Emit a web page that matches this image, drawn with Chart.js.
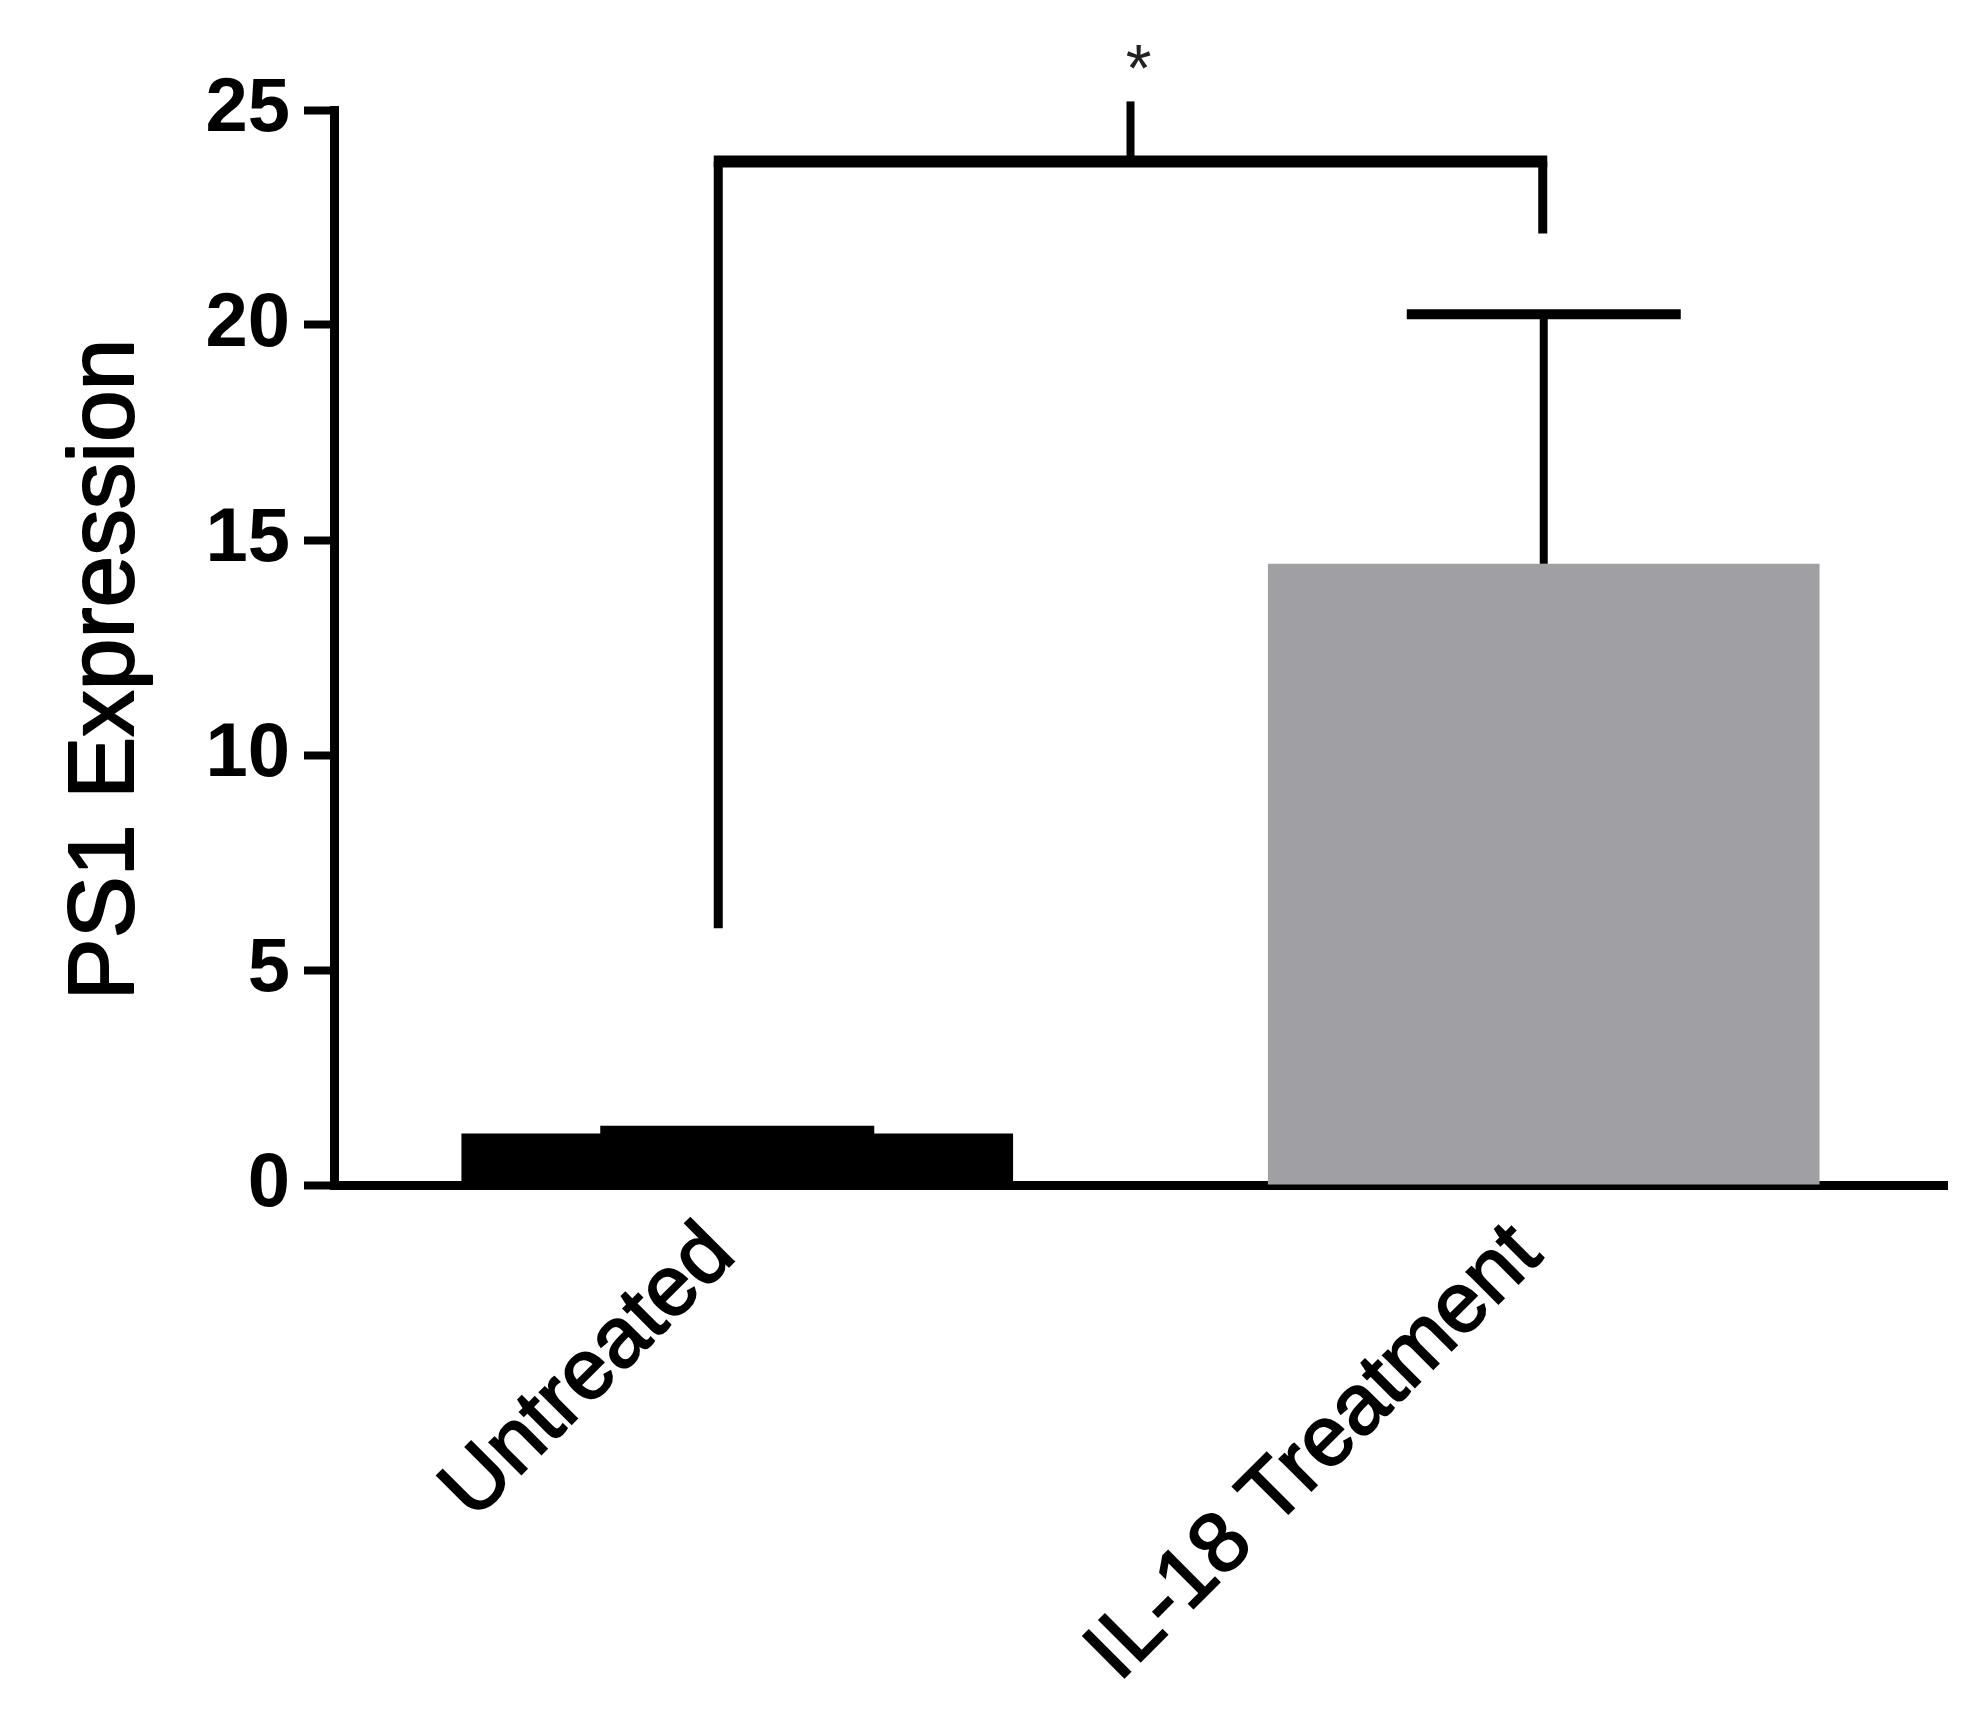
<!DOCTYPE html>
<html>
<head>
<meta charset="utf-8">
<script src="https://cdn.jsdelivr.net/npm/chart.js@4.4.1/dist/chart.umd.min.js"></script>
<style>
  html, body { margin: 0; padding: 0; background: #ffffff; }
  #wrap { width: 1986px; height: 1713px; }
</style>
</head>
<body>
<div id="wrap"><canvas id="c" width="1986" height="1713"></canvas></div>
<script>
// ---- Data ----
const categories = ['Untreated', 'IL-18 Treatment'];
const meanValues = [1.2, 14.45];
const errorUpper = [1.26, 20.25];       // top of error bar (mean + SEM)
const barColors = ['#000000', '#a09fa3'];
const yTicks = [0, 5, 10, 15, 20, 25];
const yTitle = 'PS1 Expression';
// significance bracket levels
const bracketLeftFoot = 5.97;
const bracketTop = 23.8;
const bracketRightFoot = 22.13;
const bracketTickTop = 25.2;
const starLevel = 26.35;
const starText = '*';

const FONT = '"Liberation Sans", Arial, Helvetica, sans-serif';

const overlay = {
  id: 'overlay',
  afterDatasetsDraw(chart) {
    const ctx = chart.ctx;
    const xs = chart.scales.x, ys = chart.scales.y;
    const meta = chart.getDatasetMeta(0);
    ctx.save();
    ctx.strokeStyle = '#000';
    ctx.lineCap = 'butt';
    // error bars
    meta.data.forEach((bar, i) => {
      const x = bar.x;
      const y0 = ys.getPixelForValue(meanValues[i]);
      const y1 = ys.getPixelForValue(errorUpper[i]);
      ctx.lineWidth = 8;
      ctx.beginPath();
      ctx.moveTo(x, y0);
      ctx.lineTo(x, y1);
      ctx.stroke();
      ctx.lineWidth = 10;
      ctx.beginPath();
      ctx.moveTo(x - 137, y1);
      ctx.lineTo(x + 137, y1);
      ctx.stroke();
    });
    // significance bracket
    const xl = xs.getPixelForValue(0) - 19;
    const xr = xs.getPixelForValue(1) - 1;
    const yl = ys.getPixelForValue(bracketLeftFoot);
    const yt = ys.getPixelForValue(bracketTop);
    const yr = ys.getPixelForValue(bracketRightFoot);
    ctx.lineWidth = 9;
    ctx.beginPath();
    ctx.moveTo(xl, yl);
    ctx.lineTo(xl, yt);
    ctx.moveTo(xr, yt);
    ctx.lineTo(xr, yr);
    ctx.stroke();
    ctx.lineWidth = 12;
    ctx.beginPath();
    ctx.moveTo(xl - 4.5, yt);
    ctx.lineTo(xr + 4.5, yt);
    ctx.stroke();
    const xm = (xl + xr) / 2;
    ctx.lineWidth = 8;
    ctx.beginPath();
    ctx.moveTo(xm, yt);
    ctx.lineTo(xm, ys.getPixelForValue(bracketTickTop));
    ctx.stroke();
    ctx.fillStyle = '#222';
    const starSize = 66;
    ctx.font = starSize + 'px ' + FONT;
    ctx.textAlign = 'center';
    ctx.textBaseline = 'alphabetic';
    ctx.fillText(starText, xm + 8, ys.getPixelForValue(starLevel) + 0.585 * starSize);
    // y axis title
    ctx.save();
    ctx.fillStyle = '#000';
    ctx.strokeStyle = '#000';
    ctx.lineWidth = 2;
    ctx.lineJoin = 'round';
    ctx.font = '93px ' + FONT;
    ctx.textAlign = 'center';
    ctx.textBaseline = 'alphabetic';
    ctx.translate(133, (ys.top + ys.bottom) / 2 + 22);
    ctx.rotate(-Math.PI / 2);
    ctx.fillText(yTitle, 0, 0);
    ctx.strokeText(yTitle, 0, 0);
    ctx.restore();
    ctx.restore();
  }
};

new Chart(document.getElementById('c'), {
  type: 'bar',
  data: {
    labels: categories,
    datasets: [{
      data: meanValues,
      backgroundColor: barColors,
      borderWidth: 0,
      categoryPercentage: 1.0,
      barPercentage: 0.684
    }]
  },
  options: {
    responsive: false,
    animation: false,
    devicePixelRatio: 1,
    layout: { padding: { left: 30, right: 39, top: 110, bottom: 0 } },
    plugins: { legend: { display: false }, tooltip: { enabled: false } },
    scales: {
      x: {
        z: 1,
        grid: { display: false },
        border: { display: true, color: '#000', width: 9 },
        ticks: {
          color: '#000',
          font: { family: FONT, size: 85, weight: 'normal' },
          textStrokeColor: '#000',
          textStrokeWidth: 2,
          minRotation: 45, maxRotation: 45,
          padding: 12,
          labelOffset: -16
        },
        afterFit(scale) { scale.height = 528; }
      },
      y: {
        z: 1,
        min: 0, max: 25,
        afterBuildTicks(scale) { scale.ticks = yTicks.map(v => ({ value: v })); },
        grid: { drawOnChartArea: false, drawTicks: true, tickLength: 30, tickWidth: 8, tickColor: '#000', color: '#000' },
        border: { display: true, color: '#000', width: 9 },
        ticks: {
          color: '#000',
          font: { family: FONT, size: 76, weight: 'bold' },
          padding: 14
        },
        title: { display: false },
        afterFit(scale) { scale.width = 304; }
      }
    }
  },
  plugins: [overlay]
});
</script>
</body>
</html>
